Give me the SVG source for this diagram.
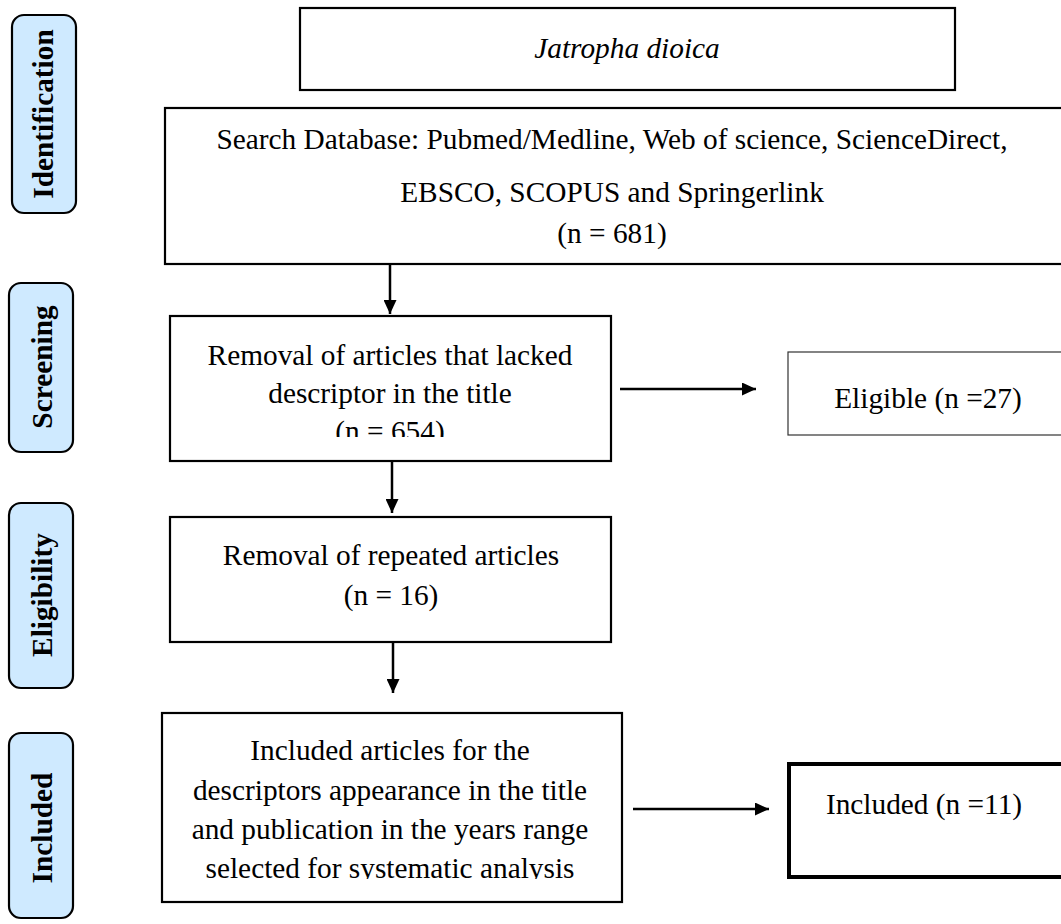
<svg xmlns="http://www.w3.org/2000/svg" width="1061" height="924" viewBox="0 0 1061 924">
<style>
  .box{fill:#fff;stroke:#000;stroke-width:2.2}
  .thin{fill:#fff;stroke:#333;stroke-width:1.2}
  .thick{fill:#fff;stroke:#000;stroke-width:4}
  .side{fill:#cfeaff;stroke:#000;stroke-width:2.2}
  .t{font-family:"Liberation Serif","Times New Roman",serif;font-size:29.33px;fill:#000;text-anchor:middle}
  .it{font-style:italic}
  .lbl{font-family:"Liberation Serif","Times New Roman",serif;font-size:29.33px;font-weight:bold;fill:#000;text-anchor:middle}
  .conn{stroke:#000;stroke-width:2.5;fill:none}
</style>
<defs>
  <marker id="ah" markerWidth="14" markerHeight="13" refX="14" refY="6.5" orient="auto" markerUnits="userSpaceOnUse" viewBox="0 0 14 13">
    <path d="M0,0 L14,6.5 L0,13 z" fill="#000"/>
  </marker>
  <clipPath id="c1"><rect x="170" y="318" width="440" height="119"/></clipPath>
  <clipPath id="c2"><rect x="162" y="715" width="460" height="164"/></clipPath>
</defs>
<rect width="1061" height="924" fill="#fff"/>

<g id="side-identification">
  <rect class="side" x="12" y="15" width="64" height="198" rx="12"/>
  <text class="lbl" transform="translate(53,114) rotate(-90)">Identification</text>
</g>
<g id="side-screening">
  <rect class="side" x="9" y="283" width="64" height="169" rx="12"/>
  <text class="lbl" transform="translate(52,367) rotate(-90)">Screening</text>
</g>
<g id="side-eligibility">
  <rect class="side" x="9" y="503" width="64" height="185" rx="12"/>
  <text class="lbl" transform="translate(52,595) rotate(-90)">Eligibility</text>
</g>
<g id="side-included">
  <rect class="side" x="9" y="733" width="64" height="185" rx="12"/>
  <text class="lbl" transform="translate(52,828) rotate(-90)">Included</text>
</g>

<g id="node-jatropha">
  <rect class="box" x="300" y="8" width="655" height="82"/>
  <text class="t it" x="627" y="58">Jatropha dioica</text>
</g>
<g id="node-search">
  <rect class="box" x="165" y="108" width="900" height="156"/>
  <text class="t" x="612" y="149">Search Database: Pubmed/Medline, Web of science, ScienceDirect,</text>
  <text class="t" x="612" y="202">EBSCO, SCOPUS and Springerlink</text>
  <text class="t" x="612" y="243">(n = 681)</text>
</g>
<g id="node-removal1">
  <rect class="box" x="170" y="316" width="441" height="145"/>
  <g clip-path="url(#c1)">
    <text class="t" x="390" y="365">Removal of articles that lacked</text>
    <text class="t" x="390" y="403">descriptor in the title</text>
    <text class="t" x="390" y="441">(n = 654)</text>
  </g>
</g>
<g id="node-eligible">
  <rect class="thin" x="788" y="352" width="290" height="83"/>
  <text class="t" x="928" y="408">Eligible (n =27)</text>
</g>
<g id="node-removal2">
  <rect class="box" x="170" y="517" width="441" height="125"/>
  <text class="t" x="391" y="565">Removal of repeated articles</text>
  <text class="t" x="391" y="605">(n = 16)</text>
</g>
<g id="node-included-articles">
  <rect class="box" x="162" y="713" width="460" height="189"/>
  <g clip-path="url(#c2)">
    <text class="t" x="390" y="760">Included articles for the</text>
    <text class="t" x="390" y="800">descriptors appearance in the title</text>
    <text class="t" x="390" y="839">and publication in the years range</text>
    <text class="t" x="390" y="878">selected for systematic analysis</text>
  </g>
</g>
<g id="node-included">
  <rect class="thick" x="789" y="764" width="290" height="113"/>
  <text class="t" x="924" y="814">Included (n =11)</text>
</g>

<g id="connectors">
  <line class="conn" x1="390" y1="265" x2="390" y2="314" marker-end="url(#ah)"/>
  <line class="conn" x1="620" y1="389" x2="756" y2="389" marker-end="url(#ah)"/>
  <line class="conn" x1="392" y1="462" x2="392" y2="513" marker-end="url(#ah)"/>
  <line class="conn" x1="393" y1="643" x2="393" y2="693" marker-end="url(#ah)"/>
  <line class="conn" x1="633" y1="809" x2="769" y2="809" marker-end="url(#ah)"/>
</g>
</svg>
